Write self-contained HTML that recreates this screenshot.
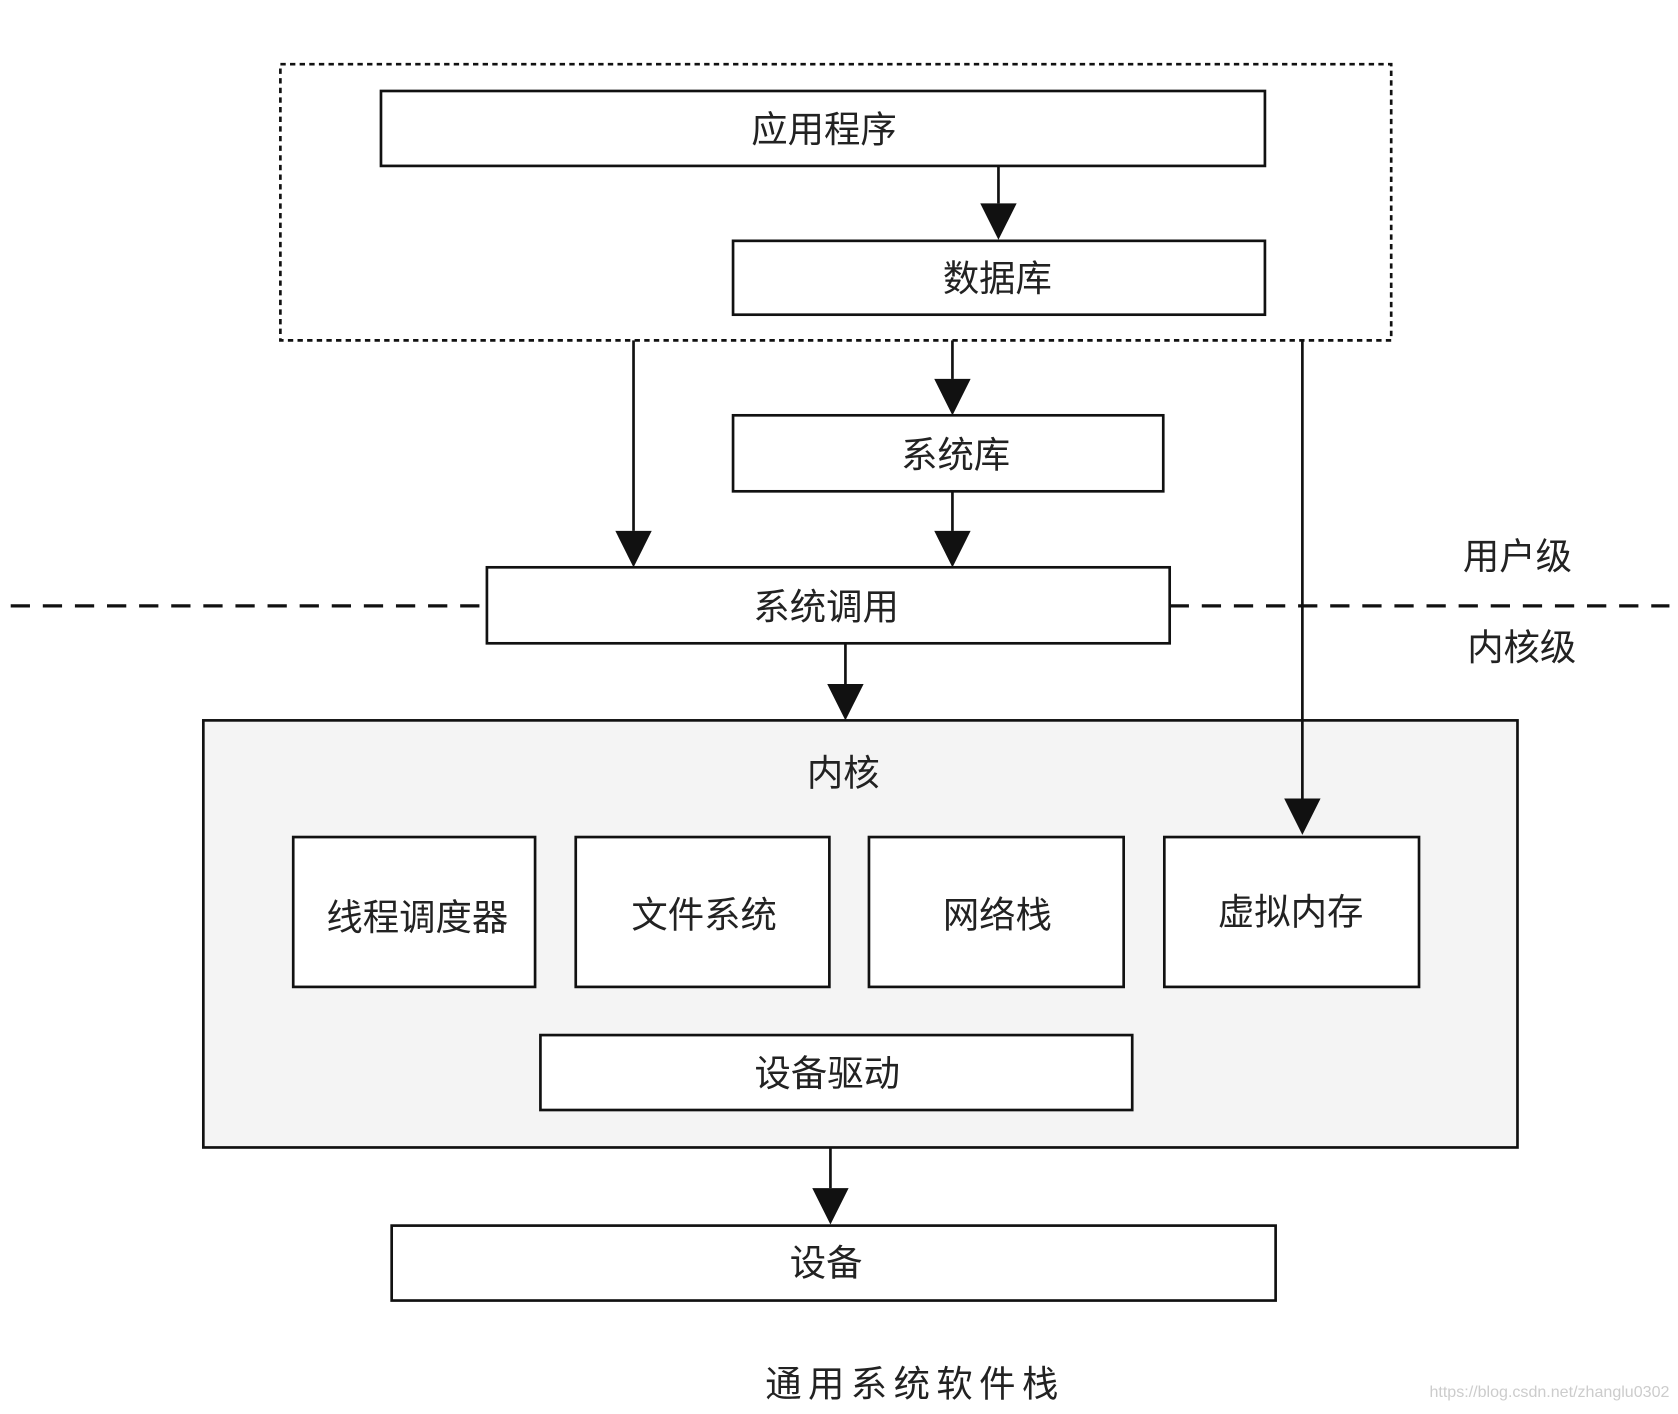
<!DOCTYPE html>
<html><head><meta charset="utf-8"><style>
html,body{margin:0;padding:0;background:#fff;}
svg{display:block;}
text{font-family:"Liberation Sans","Noto Sans CJK SC",sans-serif;fill:#222;}
</style></head><body>
<svg width="1678" height="1414" viewBox="0 0 1568 1321" preserveAspectRatio="none" xmlns="http://www.w3.org/2000/svg">
<defs>
<marker id="a" viewBox="0 0 10 10" refX="10" refY="5" markerWidth="10" markerHeight="10" markerUnits="userSpaceOnUse" orient="auto">
<path d="M0,0 L10,5 L0,10 z" fill="#111"/>
</marker>
</defs>
<g stroke="#111" fill="none">
<rect x="262" y="60" width="1038" height="258" stroke-width="2.5" stroke-dasharray="5,4"/>
<line x1="10" y1="566" x2="455" y2="566" stroke-width="3" stroke-dasharray="18,12"/>
<line x1="1093" y1="566" x2="1560" y2="566" stroke-width="3" stroke-dasharray="18,12"/>
<rect x="190" y="673" width="1228" height="399" fill="#f4f4f4" stroke-width="2.5"/>
<g stroke-width="2.5" fill="#fff">
<rect x="356" y="85" width="826" height="70"/>
<rect x="685" y="225" width="497" height="69"/>
<rect x="685" y="388" width="402" height="71"/>
<rect x="455" y="530" width="638" height="71"/>
<rect x="274" y="782" width="226" height="140"/>
<rect x="538" y="782" width="237" height="140"/>
<rect x="812" y="782" width="238" height="140"/>
<rect x="1088" y="782" width="238" height="140"/>
<rect x="505" y="967" width="553" height="70"/>
<rect x="366" y="1145" width="826" height="70"/>
</g>
</g>
<g stroke="#111" stroke-width="2.5">
<line x1="933" y1="155" x2="933" y2="190"/><path d="M916,190 L950,190 L933,224 z" fill="#111" stroke="none"/>
<line x1="890" y1="318" x2="890" y2="354"/><path d="M873,354 L907,354 L890,388 z" fill="#111" stroke="none"/>
<line x1="890" y1="459" x2="890" y2="496"/><path d="M873,496 L907,496 L890,530 z" fill="#111" stroke="none"/>
<line x1="592" y1="318" x2="592" y2="496"/><path d="M575,496 L609,496 L592,530 z" fill="#111" stroke="none"/>
<line x1="790" y1="601" x2="790" y2="639"/><path d="M773,639 L807,639 L790,673 z" fill="#111" stroke="none"/>
<line x1="1217" y1="318" x2="1217" y2="748"/><path d="M1200,746 L1234,746 L1217,780 z" fill="#111" stroke="none"/>
<line x1="776" y1="1072" x2="776" y2="1110"/><path d="M759,1110 L793,1110 L776,1144 z" fill="#111" stroke="none"/>
</g>
<g font-size="34" text-anchor="middle" dominant-baseline="central">
<text x="770" y="121">应用程序</text>
<text x="932" y="260">数据库</text>
<text x="893" y="425">系统库</text>
<text x="772" y="567">系统调用</text>
<text x="1418" y="520">用户级</text>
<text x="1422" y="605">内核级</text>
<text x="788" y="722">内核</text>
<text x="390" y="857">线程调度器</text>
<text x="658" y="855">文件系统</text>
<text x="932" y="855">网络栈</text>
<text x="1206" y="852">虚拟内存</text>
<text x="773" y="1003">设备驱动</text>
<text x="772" y="1180">设备</text>
<text x="855" y="1293" letter-spacing="6" font-family="'Noto Serif CJK SC',serif">通用系统软件栈</text>
</g>
<text x="1560" y="1305" font-size="15" text-anchor="end" style="fill:#ccc">https://blog.csdn.net/zhanglu0302</text>
</svg>
</body></html>
